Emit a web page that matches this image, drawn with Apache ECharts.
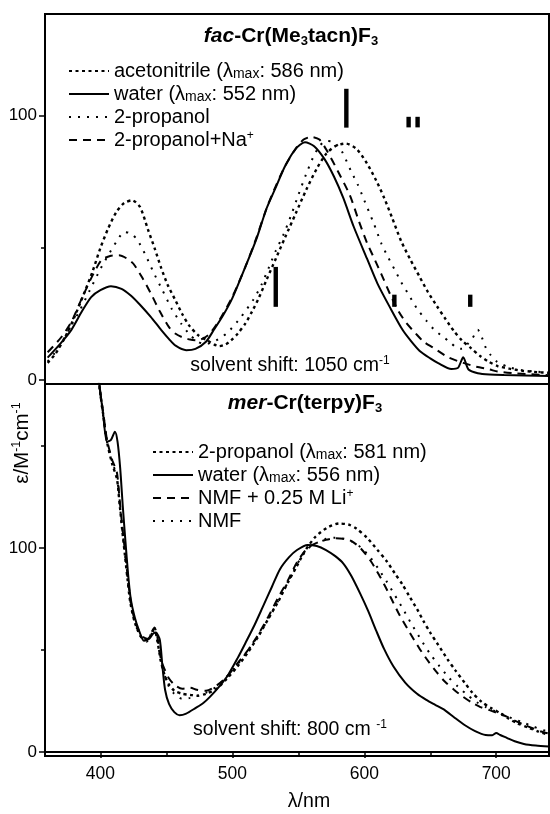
<!DOCTYPE html>
<html><head><meta charset="utf-8">
<script src="https://cdn.jsdelivr.net/npm/echarts@6/dist/echarts.min.js"></script>
<style>html,body{margin:0;padding:0;background:#fff}#c{width:550px;height:814px}</style>
</head><body><div id="c"></div>
<script>
// ---------- data (wavelength nm, epsilon M^-1 cm^-1) ----------
const topNames = ['acetonitrile (λmax: 586 nm)', 'water (λmax: 552 nm)', '2-propanol', '2-propanol+Na+'];
const botNames = ['2-propanol (λmax: 581 nm)', 'water (λmax: 556 nm)', 'NMF + 0.25 M Li+', 'NMF'];
const xTickLabels = [400, 500, 600, 700];
const xMinorTicks = [450, 550, 650];
const topYLabels = [0, 100];
const topYMinor = [50];
const botYLabels = [0, 100];
const botYMinor = [50, 150];

const topMeCN = [[360,6.5],[366,10],[373,16],[380,23.5],[387,32],[394,41],[400,50],[406,57.5],[412,63.5],[418,67],[424,68],[430,65.5],[436,57],[441,50],[446,42.5],[451,36],[457,30],[462,25],[467.5,20.5],[474,17],[481,15],[486,13.5],[490,12.8],[495,13.5],[499,15],[504,17.5],[510,21.5],[515,26],[520,31],[526,38],[533,46],[540,54],[548,63],[556,72],[564,80],[571,85.5],[578,88.5],[586,89.5],[594,87.5],[602,82],[609,75.5],[615,69],[621,61.5],[628,52.5],[635,45.5],[642,39],[648,33.5],[655,28],[661,23.5],[668,18.5],[674,15],[681,12],[688,9],[694,7],[701,5.3],[710,4.3],[720,3.5],[731,3],[740,2.7]];
const topWater = [[360,8.5],[370,14],[378,19],[386,26],[393,31.4],[400,34],[408,35.5],[416,34.5],[423,32],[430,28.5],[438,24],[446,19],[452,15.5],[457,13],[465,11.3],[472,11.8],[480,14.5],[486,19],[493,24.5],[500,31],[510,43],[518,53],[526,65],[533,73],[540,81],[548,87.5],[555,90],[562,88.5],[570,83.5],[577,77],[584,69],[592,58],[602,46],[610,36.5],[620,27],[629,19],[635,15],[642,11],[650,8.2],[656,6.4],[666,4.2],[671,4.6],[675,8.6],[679,4],[686,2.6],[695,2.1],[706,1.9],[740,1.5]];
const topIso = [[360,7],[368,12],[376,19],[384,26],[392,34],[400,42],[408,49],[413,53],[418,56],[423,55.5],[428,53],[434,47.5],[440,41],[447,34],[454,27],[461,21.5],[468,17],[474,14.5],[479,13.6],[486,14.5],[496,17.8],[506,23.5],[516,30.5],[522,36],[528,43],[533,49],[539,55.3],[545,63],[550,70],[556,78],[561,84],[566,88.5],[571,90.5],[577,90],[583,86.5],[590,79],[595,74],[600,68],[607,59.5],[613,51.6],[618,46.5],[623,41.8],[628,37],[634,32],[640,27],[647,22.5],[653,19],[658,17],[665,14.3],[670,12.2],[674,11.8],[678,13.5],[682,15.8],[686,19],[689,16.3],[692,12.3],[696,9.3],[701,6.8],[710,4.8],[719,3.8],[730,3.2],[740,2.8]];
const topNa = [[360,10.5],[370,16],[378,22],[386,31],[394,39.5],[401,45.5],[408,47],[414,47.2],[420,46],[425,44],[432,38.5],[438,33],[445,26],[452,20],[457,17.5],[462,16.2],[468,15.3],[473,15],[478,15.8],[483,17.6],[490,22.5],[500,31.5],[510,43],[518,53.5],[526,65],[533,73.5],[540,81],[548,87.5],[554,91],[560,92],[566,91],[572,86.5],[580,79],[589,70],[596,60],[602,52],[608,45.5],[613,40],[620,32],[626,26],[632,21.5],[639,17.6],[645,14.5],[652,12.3],[664,8.5],[675,6.5],[685,5],[695,4],[701,3.2],[715,2.5],[740,1.8]];
// vertical bars: [wavelength, y bottom, y top]
const topBars = [[586.4,95.5,110.2],[633.6,95.6,99.6],[640.4,95.6,99.6],[532.9,27.7,42.8],[622.8,27.7,32.3],[680.3,27.7,32.3]];

const botIso = [[397,205],[399,181],[402,166],[405,152],[409,141],[412.5,134],[414.5,122],[416.5,109],[418.5,97],[420.5,85],[422.5,74],[425,66],[428,60],[432,55.5],[436,55],[439,58.5],[441,60],[443,55],[446,44],[449,37],[452,33],[456,30],[462,28.5],[468,28],[473,27.5],[480,28.5],[488,31],[496,36],[504,42],[512,49],[520,57],[527,65],[535,74],[542,83],[548,90],[555,98.5],[563,105.5],[572,110],[581,112],[588,111.5],[594,109.5],[602,105],[610,99],[617,93.5],[623,87.7],[629,82],[634,76.5],[640,70],[645,64],[650,58.5],[656,52.5],[663,45.5],[669,40],[676,34],[682,29],[689,24.5],[696,21.5],[703,19],[709,16.5],[716,14],[724,12],[732,10],[740,8.3]];
const botWater = [[397,205],[399,182],[402,166],[405,152],[408,153],[411,157],[413,152],[415,139],[417,120],[419,103],[421,87],[423,75],[426,66],[429,60],[433,54.5],[437,55.5],[440,58],[442,58.5],[445,55],[447,42],[449,30.5],[452,23.5],[456,19.5],[460,18],[465,18.8],[472,21.5],[478,24],[483,27],[490,32],[497,38],[504,46],[510,53.5],[517,62.5],[523,71],[530,81],[536,89.5],[543,95.5],[549,99],[557,101.5],[564,101],[571,99],[578,96],[584,92.5],[590,86.5],[597,77.5],[603,69],[609,59.5],[615,50.5],[622,42],[631,34],[640,28.5],[647,25.5],[654,23],[661,20.5],[668,17],[676,13.2],[684,10.2],[692,8.3],[697,8.2],[700,9.3],[703,8.3],[708,6.9],[714,5.2],[721,3.9],[730,3.1],[740,2.6]];
const botLi = [[397,205],[399,181],[402,167],[405,153],[409,143],[412.5,137],[414.5,124],[416.5,111],[418.5,99],[420.5,87],[422.5,76],[425,67],[428,61],[432,56.5],[436,55.5],[439,59],[441,61],[443,57],[446,45],[449,40],[452,36],[456,33],[462,31],[468,31.5],[473,30.5],[480,30],[488,32.5],[496,37],[504,43.5],[512,50],[520,58],[527,66],[535,76],[542,84],[549,93],[557,100],[564,102.5],[571,104],[578,104.8],[584,104.5],[590,103.5],[597,100],[605,93.5],[611,87],[616,81],[621,74.5],[626,68],[634,59],[642,50.5],[649,44],[655,39],[661,34.5],[668,30.5],[675,27],[682,24],[688,22],[695,20.5],[701,19],[708,17.3],[714,15.3],[721,13.3],[728,11.5],[734,10],[740,9]];
const botNMF = [[397,205],[399,180],[402,165],[405,152],[409,142],[412.5,135],[414.5,122],[416.5,110],[418.5,98],[420.5,86],[422.5,75],[425,66],[428,60],[432,55],[435,54],[438,57],[441,60],[443,56],[446,44],[449,37],[452,32],[456,28.5],[462,26],[468,26.5],[473,27.5],[480,29],[488,32],[496,37],[504,43],[512,50],[520,57.5],[527,65],[535,74.5],[542,83],[549,92],[557,99.5],[564,102.5],[571,104.5],[578,105],[585,104.5],[591,103],[598,100],[605,95],[611,89.5],[617,83.5],[623,77],[629,70.5],[636,62.5],[643,55],[650,48],[657,42],[664,36.5],[671,32],[678,28],[685,24.5],[692,22],[699,20],[705,18.5],[712,16.5],[720,14.5],[728,12.5],[734,11],[740,10]];

// ---------- styles ----------
const FONT = 'Liberation Sans, Arial, Helvetica, sans-serif';
const BLACK = '#000';
const styleSolid = {color: BLACK, width: 2, type: 'solid'};
const styleDense = {color: BLACK, width: 2.4, type: [3, 3.5]};
const styleSparse = {color: BLACK, width: 2, type: [2, 7]};
const styleDash = {color: BLACK, width: 2, type: [8, 6]};

function line(name, data, ls, xi, yi, z) {
  return {name, type: 'line', data, xAxisIndex: xi, yAxisIndex: yi, symbol: 'none', showSymbol: false,
    smooth: 0.25, lineStyle: ls, itemStyle: {color: BLACK}, clip: true, z: z || 2, silent: true};
}

const richCommon = {
  m: {fontSize: 14, fontFamily: FONT, color: BLACK, verticalAlign: 'bottom', lineHeight: 18},
  sup: {fontSize: 12, fontFamily: FONT, color: BLACK, verticalAlign: 'top', lineHeight: 12}
};
function legendFmt(name) {
  return name.replace('λmax', 'λ{m|max}').replace(/\+$/, '{sup|+}');
}
function yAxisMain(gi, min, max, labels) {
  return {type: 'value', gridIndex: gi, min, max, position: 'left',
    axisLine: {show: true, lineStyle: {color: BLACK, width: 2}},
    splitLine: {show: false},
    axisTick: {show: true, customValues: labels, length: 6, lineStyle: {color: BLACK, width: 1.5}},
    axisLabel: {show: true, customValues: labels, fontSize: 17, fontFamily: FONT, color: BLACK, margin: 8}};
}
function yAxisMinor(gi, min, max, ticks) {
  return {type: 'value', gridIndex: gi, min, max, position: 'left',
    axisLine: {show: false}, splitLine: {show: false},
    axisTick: {show: true, customValues: ticks, length: 4, lineStyle: {color: BLACK, width: 1.5}},
    axisLabel: {show: false}};
}
function legendCfg(names, left, top) {
  return {data: names, orient: 'vertical', left, top, itemWidth: 40, itemHeight: 14, itemGap: 3,
    selectedMode: false, formatter: legendFmt, itemStyle: {opacity: 0},
    textStyle: {fontSize: 20, fontFamily: FONT, color: BLACK, lineHeight: 20, rich: richCommon}};
}
function richText(x, y, text, rich, extra) {
  return Object.assign({type: 'text', x, y, silent: true, style: {
    text, rich, align: 'center', verticalAlign: 'middle', textAlign: 'center', textVerticalAlign: 'middle'}}, extra || {});
}
const titleRich = {
  bi: {fontSize: 21, fontWeight: 'bold', fontStyle: 'italic', fontFamily: FONT, fill: BLACK, color: BLACK, lineHeight: 24},
  b: {fontSize: 21, fontWeight: 'bold', fontFamily: FONT, fill: BLACK, color: BLACK, lineHeight: 24},
  s: {fontSize: 13, fontWeight: 'bold', fontFamily: FONT, fill: BLACK, color: BLACK, verticalAlign: 'bottom', lineHeight: 13}
};
const plainRich = {
  t: {fontSize: 19.5, fontFamily: FONT, fill: BLACK, color: BLACK, lineHeight: 22},
  u: {fontSize: 12, fontFamily: FONT, fill: BLACK, color: BLACK, verticalAlign: 'top', lineHeight: 12}
};
const axisNameRich = {
  t: {fontSize: 20.5, fontFamily: FONT, fill: BLACK, color: BLACK, lineHeight: 23},
  u: {fontSize: 12.5, fontFamily: FONT, fill: BLACK, color: BLACK, verticalAlign: 'top', lineHeight: 12}
};

const chart = echarts.init(document.getElementById('c'), null, {renderer: 'canvas'});
const option = {
  backgroundColor: '#fff',
  animation: false,
  grid: [
    {left: 45, top: 14, width: 504, height: 370, show: true, borderColor: BLACK, borderWidth: 2},
    {left: 45, top: 384, width: 504, height: 372, show: true, borderColor: BLACK, borderWidth: 2}
  ],
  xAxis: [
    {type: 'value', gridIndex: 0, min: 358, max: 740, show: false},
    {type: 'value', gridIndex: 1, min: 358, max: 740, position: 'bottom',
      axisLine: {show: true, lineStyle: {color: BLACK, width: 2}}, splitLine: {show: false},
      axisTick: {show: true, customValues: xTickLabels, length: 6, lineStyle: {color: BLACK, width: 1.5}},
      axisLabel: {show: true, customValues: xTickLabels, fontSize: 17.5, fontFamily: FONT, color: BLACK, margin: 9}},
    {type: 'value', gridIndex: 1, min: 358, max: 740, position: 'bottom', offset: 0,
      axisLine: {show: false}, splitLine: {show: false},
      axisTick: {show: true, customValues: xMinorTicks, length: 3, lineStyle: {color: BLACK, width: 1.5}},
      axisLabel: {show: false}}
  ],
  yAxis: [
    yAxisMain(0, -1.5, 138.5, topYLabels),
    yAxisMinor(0, -1.5, 138.5, topYMinor),
    yAxisMain(1, -2, 180.4, botYLabels),
    yAxisMinor(1, -2, 180.4, botYMinor)
  ],
  legend: [legendCfg(topNames, 63, 56), legendCfg(botNames, 147, 437)],
  series: [
    line(topNames[0], topMeCN, styleDense, 0, 0),
    line(topNames[1], topWater, styleSolid, 0, 0, 3),
    line(topNames[2], topIso, styleSparse, 0, 0),
    line(topNames[3], topNa, styleDash, 0, 0),
    {type: 'custom', xAxisIndex: 0, yAxisIndex: 0, data: topBars, encode: {x: 0, y: [1, 2]}, silent: true, z: 4,
      renderItem: function (params, api) {
        const p0 = api.coord([api.value(0), api.value(1)]);
        const p1 = api.coord([api.value(0), api.value(2)]);
        return {type: 'rect', shape: {x: p0[0] - 2.2, y: p1[1], width: 4.4, height: p0[1] - p1[1]}, style: {fill: BLACK}};
      }},
    line(botNames[0], botIso, styleDense, 1, 2),
    line(botNames[1], botWater, styleSolid, 1, 2, 3),
    line(botNames[2], botLi, styleDash, 1, 2),
    line(botNames[3], botNMF, styleSparse, 1, 2)
  ],
  graphic: [
    richText(291, 36, '{bi|fac}{b|-Cr(Me}{s|3}{b|tacn)F}{s|3}', titleRich),
    richText(305, 403, '{bi|mer}{b|-Cr(terpy)F}{s|3}', titleRich),
    richText(290, 366, '{t|solvent shift: 1050 cm}{u|-1}', plainRich),
    richText(290, 730, '{t|solvent shift: 800 cm }{u|-1}', plainRich),
    richText(309, 802, '{t|λ/nm}', plainRich),
    richText(22, 443, '{t|ε/M}{u|-1}{t|cm}{u|-1}', axisNameRich, {rotation: Math.PI / 2})
  ]
};
chart.setOption(option);
</script>
</body></html>
